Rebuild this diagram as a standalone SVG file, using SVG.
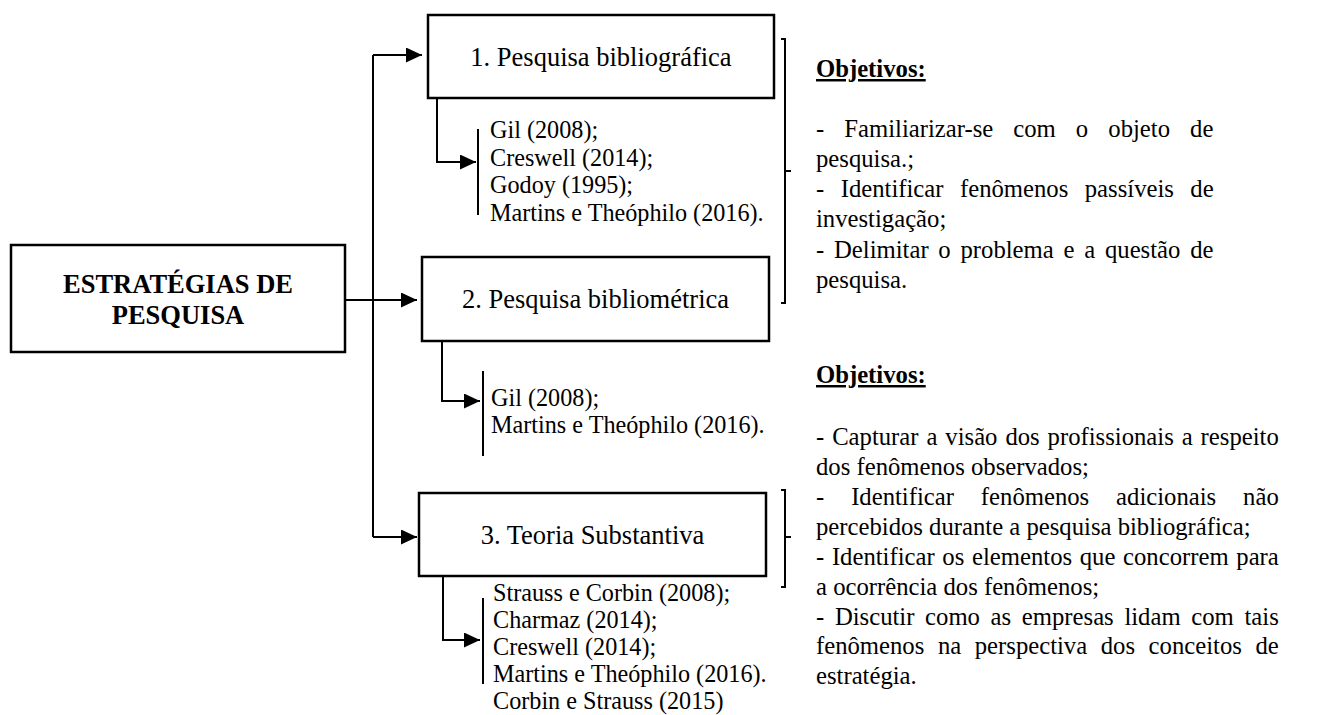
<svg xmlns="http://www.w3.org/2000/svg" width="1322" height="715" viewBox="0 0 1322 715">
  <style>
    .box { fill: #ffffff; stroke: #000000; stroke-width: 2.5; }
    .conn { fill: none; stroke: #000000; stroke-width: 2; }
    .bar { fill: none; stroke: #000000; stroke-width: 2; }
    .brace { fill: none; stroke: #000000; stroke-width: 2; }
    .serif { font-family: "Liberation Serif", "Times New Roman", serif; fill: #000000; }
    .title { font-size: 26.5px; font-weight: bold; text-anchor: middle; }
    .label { font-size: 26.5px; text-anchor: middle; }
    .ref { font-size: 24.2px; }
    .obj { font-size: 24.7px; }
    .head { font-size: 24.7px; font-weight: bold; text-decoration: underline; }
  </style>
  <defs>
    <marker id="arrow" markerUnits="userSpaceOnUse" markerWidth="16" markerHeight="15" viewBox="0 0 16 15" refX="16" refY="7.5" orient="auto">
      <path d="M0,0 L16,7.5 L0,15 z" fill="#000000"/>
    </marker>
  </defs>

  <rect width="1322" height="715" fill="#ffffff"/>

  <!-- connectors -->
  <g id="connectors">
    <line class="conn" x1="373" y1="55" x2="373" y2="537"/>
    <line class="conn" x1="373" y1="55" x2="422" y2="55" marker-end="url(#arrow)"/>
    <line class="conn" x1="345" y1="300" x2="417" y2="300" marker-end="url(#arrow)"/>
    <line class="conn" x1="373" y1="537" x2="417" y2="537" marker-end="url(#arrow)"/>
    <path class="conn" d="M437,98 V162 H476" marker-end="url(#arrow)"/>
    <path class="conn" d="M442,341 V401 H480" marker-end="url(#arrow)"/>
    <path class="conn" d="M443,576 V640 H480" marker-end="url(#arrow)"/>
    <!-- reference bars -->
    <line class="bar" x1="478" y1="129" x2="478" y2="215"/>
    <line class="bar" x1="483" y1="371" x2="483" y2="456"/>
    <line class="bar" x1="483" y1="598" x2="483" y2="684"/>
    <!-- right brackets -->
    <path class="brace" d="M781,39 H785 V303 H781 M785,171 H791"/>
    <path class="brace" d="M781,490 H785 V587 H781 M785,537 H791"/>
  </g>

  <g id="root">
    <rect class="box" x="11" y="245" width="334" height="107"/>
    <text class="serif title" x="178" y="293">ESTRATÉGIAS DE</text>
    <text class="serif title" x="178" y="324">PESQUISA</text>
  </g>

  <g id="node1">
    <rect class="box" x="428" y="15" width="346" height="83"/>
    <text class="serif label" x="601" y="66">1. Pesquisa bibliográfica</text>
  </g>

  <g id="refs1">
    <text class="serif ref" x="490" y="138">Gil (2008);</text>
    <text class="serif ref" x="490" y="166">Creswell (2014);</text>
    <text class="serif ref" x="490" y="193">Godoy (1995);</text>
    <text class="serif ref" x="490" y="221">Martins e Theóphilo (2016).</text>
  </g>

  <g id="node2">
    <rect class="box" x="422" y="257" width="347" height="84"/>
    <text class="serif label" x="595.5" y="308">2. Pesquisa bibliométrica</text>
  </g>

  <g id="refs2">
    <text class="serif ref" x="491" y="406">Gil (2008);</text>
    <text class="serif ref" x="491" y="433">Martins e Theóphilo (2016).</text>
  </g>

  <g id="node3">
    <rect class="box" x="419" y="493" width="347" height="83"/>
    <text class="serif label" x="592.5" y="544">3. Teoria Substantiva</text>
  </g>

  <g id="refs3">
    <text class="serif ref" x="493" y="601">Strauss e Corbin (2008);</text>
    <text class="serif ref" x="493" y="628">Charmaz (2014);</text>
    <text class="serif ref" x="493" y="655">Creswell (2014);</text>
    <text class="serif ref" x="493" y="682">Martins e Theóphilo (2016).</text>
    <text class="serif ref" x="493" y="709">Corbin e Strauss (2015)</text>
  </g>

  <g id="objectives1">
    <text class="serif head" x="816" y="77">Objetivos:</text>
    <text class="serif obj" x="816" y="137" word-spacing="13.9">- Familiarizar-se com o objeto de</text>
    <text class="serif obj" x="816" y="167">pesquisa.;</text>
    <text class="serif obj" x="816" y="197" word-spacing="10.3">- Identificar fenômenos passíveis de</text>
    <text class="serif obj" x="816" y="227">investigação;</text>
    <text class="serif obj" x="816" y="258" word-spacing="3.6">- Delimitar o problema e a questão de</text>
    <text class="serif obj" x="816" y="288">pesquisa.</text>
  </g>

  <g id="objectives2">
    <text class="serif head" x="816" y="383">Objetivos:</text>
    <text class="serif obj" x="816" y="445" word-spacing="1.76">- Capturar a visão dos profissionais a respeito</text>
    <text class="serif obj" x="816" y="475">dos fenômenos observados;</text>
    <text class="serif obj" x="816" y="505" word-spacing="20.75">- Identificar fenômenos adicionais não</text>
    <text class="serif obj" x="816" y="535">percebidos durante a pesquisa bibliográfica;</text>
    <text class="serif obj" x="816" y="565" word-spacing="1.5">- Identificar os elementos que concorrem para</text>
    <text class="serif obj" x="816" y="595">a ocorrência dos fenômenos;</text>
    <text class="serif obj" x="816" y="625" word-spacing="4.5">- Discutir como as empresas lidam com tais</text>
    <text class="serif obj" x="816" y="654" word-spacing="7.4">fenômenos na perspectiva dos conceitos de</text>
    <text class="serif obj" x="816" y="684">estratégia.</text>
  </g>
</svg>
